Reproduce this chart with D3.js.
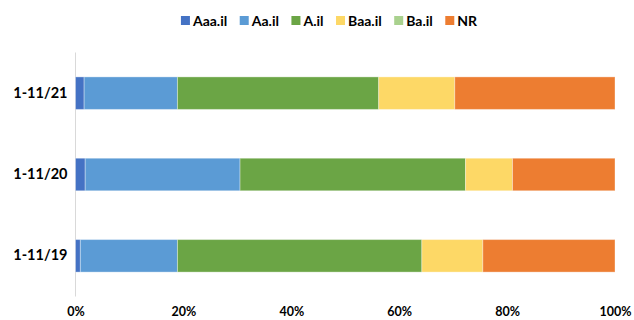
<!DOCTYPE html>
<html>
<head>
<meta charset="utf-8">
<script src="https://cdn.jsdelivr.net/npm/d3@7"></script>
<style>
  html, body { margin: 0; padding: 0; background: #fff; }
  svg { display: block; font-family: Lato, "Liberation Sans", sans-serif; font-weight: 700; }
</style>
</head>
<body>
<svg id="chart" width="634" height="320"></svg>
<script>
// Rating groups, in stacking order
const ratings = ["Aaa.il", "Aa.il", "A.il", "Baa.il", "Ba.il", "NR"];
const colors = ["#4472C4", "#5B9BD5", "#6BA545", "#FDD866", "#A9D18E", "#ED7D31"];

// Periods, top to bottom
const periods = ["1-11/21", "1-11/20", "1-11/19"];

// Share of each rating group per period (%)
const aaa = [1.6, 1.8, 0.9];
const aa  = [17.3, 28.7, 18.0];
const a   = [37.3, 41.8, 45.3];
const baa = [14.1, 8.7, 11.3];
const ba  = [0.0, 0.0, 0.0];
const nr  = [29.7, 19.0, 24.5];

const xTicks = [0, 0.2, 0.4, 0.6, 0.8, 1];

const rows = periods.map((p, i) => ({
  period: p,
  "Aaa.il": aaa[i], "Aa.il": aa[i], "A.il": a[i],
  "Baa.il": baa[i], "Ba.il": ba[i], "NR": nr[i]
}));

const svg = d3.select("#chart");
const margin = { left: 75.5, right: 19, top: 52.5, bottom: 23.5 };
const W = 634, H = 320;

const x = d3.scaleLinear().domain([0, 1]).range([margin.left, W - margin.right]);
const y = d3.scaleBand().domain(periods)
  .range([margin.top, H - margin.bottom])
  .paddingInner(0.6).paddingOuter(0.3);

const stack = d3.stack().keys(ratings).offset(d3.stackOffsetExpand);
const series = stack(rows);

// category axis line
svg.append("line")
  .attr("x1", x(0)).attr("x2", x(0))
  .attr("y1", margin.top).attr("y2", H - margin.bottom)
  .attr("stroke", "#D9D9D9").attr("stroke-width", 1);

// stacked bars
svg.append("g").selectAll("g")
  .data(series)
  .join("g")
  .attr("fill", (d, i) => colors[i])
  .selectAll("rect")
  .data(d => d.filter(s => s[1] - s[0] > 0))
  .join("rect")
  .attr("x", d => x(d[0]))
  .attr("width", d => x(d[1]) - x(d[0]))
  .attr("y", d => y(d.data.period))
  .attr("height", y.bandwidth())
  .attr("stroke", "#ffffff")
  .attr("stroke-opacity", 0.35)
  .attr("stroke-width", 1);

// category labels
const yAxis = svg.append("g")
  .attr("transform", `translate(${x(0)},0)`)
  .call(d3.axisLeft(y).tickSize(0).tickPadding(8));
yAxis.select(".domain").remove();
yAxis.selectAll("text")
  .attr("font-size", 14.5).attr("font-family", "Lato, sans-serif")
  .attr("font-weight", 700).attr("fill", "#000");

// percentage axis
const xAxis = svg.append("g")
  .attr("transform", `translate(0,${H - margin.bottom})`)
  .call(d3.axisBottom(x).tickValues(xTicks).tickFormat(d3.format(".0%")).tickSize(0).tickPadding(11));
xAxis.select(".domain").remove();
xAxis.selectAll("text")
  .attr("font-size", 12.5).attr("font-family", "Lato, sans-serif")
  .attr("font-weight", 700).attr("fill", "#000");

// legend
const legend = svg.append("g");
const items = legend.selectAll("g").data(ratings).join("g");
items.append("rect")
  .attr("width", 9).attr("height", 9)
  .attr("fill", (d, i) => colors[i]);
items.append("text")
  .attr("x", 12).attr("y", 9.8)
  .attr("font-size", 14).attr("font-family", "Lato, sans-serif")
  .attr("font-weight", 700).attr("fill", "#000")
  .text(d => d);
let cx = 0;
const offsets = [];
items.each(function () {
  const w = this.getBBox().width;
  offsets.push(cx);
  cx += w + 12.5;
});
const total = cx - 12.5;
const startX = 329.5 - total / 2;
items.attr("transform", (d, i) => `translate(${startX + offsets[i]},16)`);
</script>
</body>
</html>
